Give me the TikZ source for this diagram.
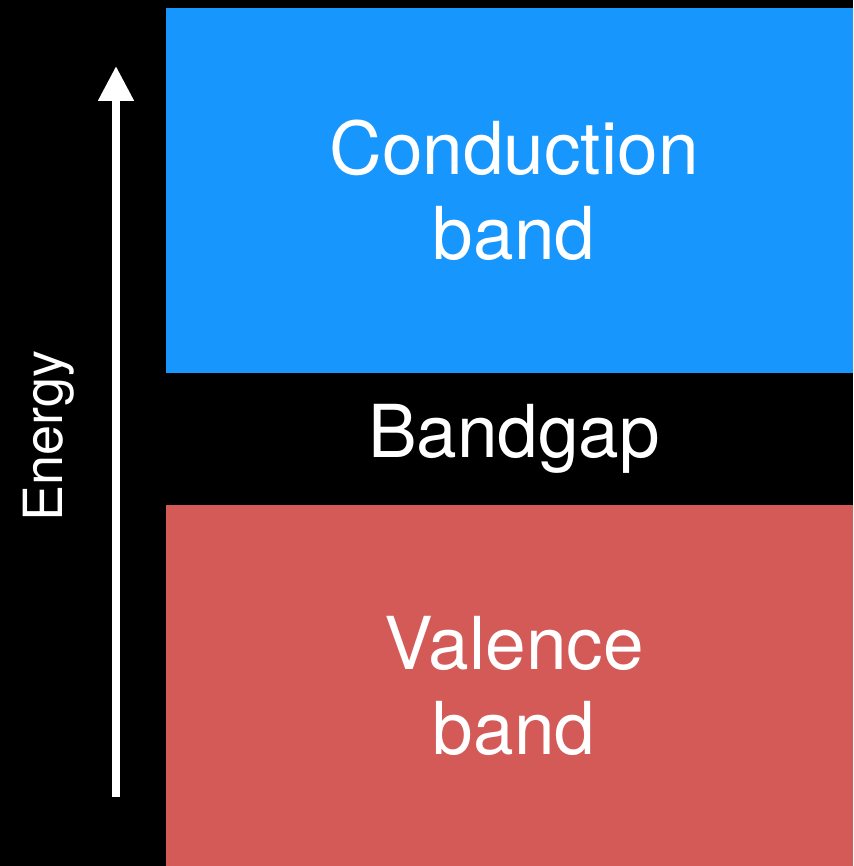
\documentclass[tikz,border=0pt]{standalone}
\usepackage{fontspec}
\setmainfont{TeX Gyre Heros}
\usepackage{tikz}
\usetikzlibrary{arrows.meta, positioning}

\definecolor{condblue}{RGB}{23,150,253}
\definecolor{valred}{RGB}{211,90,87}

\begin{document}
\begin{tikzpicture}[
    x=1pt, y=1pt,
    node distance=0pt,
    band/.style={rectangle, inner sep=0pt, outer sep=0pt, minimum width=687pt, text=white, align=center, font=\fontsize{73}{85}\selectfont},
    energyarrow/.style={draw=white, line width=8pt, -{Triangle[length=35pt, width=34pt]}}
]

% background fixes the margins
\fill[black] (0,0) rectangle (853,866);
\useasboundingbox (0,0) rectangle (853,866);

\node[band, fill=valred, minimum height=361pt, anchor=south west] (valence) at (166,0) {\hspace*{9pt}Valence\\\hspace*{9pt}band};
\node[band, minimum height=132pt, above=of valence] (gap) {\hspace*{9pt}Bandgap};
\node[band, fill=condblue, minimum height=365pt, above=of gap] (conduction) {\hspace*{9pt}Conduction\\\hspace*{9pt}band};

% energy axis
\coordinate (axistail) at (116,69);
\coordinate (axishead) at (116,800);
\draw[energyarrow] (axistail) -- (axishead);
\node[rotate=90, anchor=base, text=white, font=\fontsize{54}{60}\selectfont] (energy) at (62,430) {Energy};

\end{tikzpicture}
\end{document}
